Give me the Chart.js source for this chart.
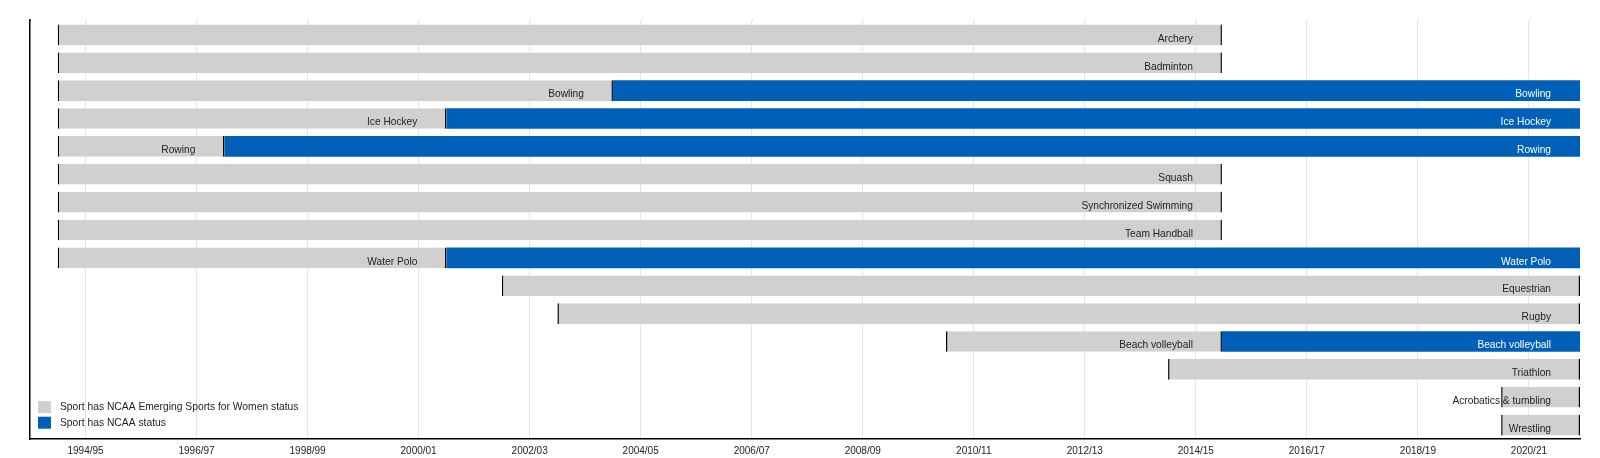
<!DOCTYPE html>
<html>
<head>
<meta charset="utf-8">
<script src="https://cdn.jsdelivr.net/npm/chart.js@4/dist/chart.umd.min.js"></script>
<style>
  html, body { margin: 0; padding: 0; background: #fff; }
  #wrap { width: 1600px; height: 458px; }
</style>
</head>
<body>
<div id="wrap"><canvas id="myChart" width="1600" height="458"></canvas></div>
<script>
// sports, top to bottom
const sports = ['Archery', 'Badminton', 'Bowling', 'Ice Hockey', 'Rowing', 'Squash',
  'Synchronized Swimming', 'Team Handball', 'Water Polo', 'Equestrian', 'Rugby',
  'Beach volleyball', 'Triathlon', 'Acrobatics & tumbling', 'Wrestling'];

// emerging sport status (years, July = .5)
const emergingStart = [1994.5, 1994.5, 1994.5, 1994.5, 1994.5, 1994.5, 1994.5, 1994.5, 1994.5,
  2002.5, 2003.5, 2010.5, 2014.5, 2020.5, 2020.5];
const emergingEnd = [2015.47, 2015.47, 2004.5, 2001.5, 1997.5, 2015.47, 2015.47, 2015.47, 2001.5,
  2021.92, 2021.92, 2015.47, 2021.92, 2021.92, 2021.92];

// full NCAA status
const ncaaStart = [null, null, 2004.5, 2001.5, 1997.5, null, null, null, 2001.5,
  null, null, 2015.47, null, null, null];
const ncaaEnd = [null, null, 2021.92, 2021.92, 2021.92, null, null, null, 2021.92,
  null, null, 2021.92, null, null, null];

const tickYears = [1995, 1997, 1999, 2001, 2003, 2005, 2007, 2009, 2011, 2013, 2015, 2017, 2019, 2021];
const tickLabels = ['1994/95', '1996/97', '1998/99', '2000/01', '2002/03', '2004/05', '2006/07',
  '2008/09', '2010/11', '2012/13', '2014/15', '2016/17', '2018/19', '2020/21'];

const GRAY = '#d2d0cf';
const BLUE = '#005fb7';
const FONT = '"Liberation Sans", Arial, Helvetica, sans-serif';

function pairs(a, b) {
  return a.map((v, i) => (v === null ? null : [v, b[i]]));
}

// axis line and grid lines reach a bit above the first row
const topExtend = {
  id: 'topExtend',
  beforeDatasetsDraw(chart) {
    const ctx = chart.ctx;
    const area = chart.chartArea;
    const xs = chart.scales.x;
    ctx.save();
    ctx.strokeStyle = '#e6e6e6';
    ctx.lineWidth = 1;
    xs.ticks.forEach(t => {
      const x = Math.round(xs.getPixelForValue(t.value)) + 0.5;
      ctx.beginPath();
      ctx.moveTo(x, area.top - 2);
      ctx.lineTo(x, area.top);
      ctx.stroke();
    });
    ctx.strokeStyle = '#000';
    ctx.lineWidth = 1.5;
    ctx.beginPath();
    ctx.moveTo(area.left, area.top - 2);
    ctx.lineTo(area.left, area.top);
    ctx.stroke();
    ctx.restore();
  }
};

// label at the end of every bar segment
const barLabels = {
  id: 'barLabels',
  afterDatasetsDraw(chart) {
    const ctx = chart.ctx;
    const xs = chart.scales.x;
    ctx.save();
    ctx.font = '10.2px ' + FONT;
    ctx.textAlign = 'right';
    ctx.textBaseline = 'alphabetic';
    chart.data.datasets.forEach((ds, di) => {
      const meta = chart.getDatasetMeta(di);
      ctx.fillStyle = di === 0 ? '#222' : '#fff';
      ds.data.forEach((d, i) => {
        if (!d) return;
        const el = meta.data[i];
        const xEnd = xs.getPixelForValue(d[1]);
        ctx.fillText(sports[i], xEnd - 29, el.y + 6.7);
      });
    });
    ctx.restore();
  }
};

// legend in lower left corner of plot
const cornerLegend = {
  id: 'cornerLegend',
  afterDraw(chart) {
    const ctx = chart.ctx;
    const area = chart.chartArea;
    ctx.save();
    ctx.font = '10.3px ' + FONT;
    ctx.textAlign = 'left';
    ctx.textBaseline = 'middle';
    chart.data.datasets.forEach((ds, di) => {
      const top = area.bottom - 38 + di * 15.7;
      ctx.fillStyle = ds.backgroundColor;
      ctx.fillRect(area.left + 8, top, 13, 12);
      ctx.fillStyle = '#222';
      ctx.fillText(ds.label, area.left + 30, top + 6.5);
    });
    ctx.restore();
  }
};

const ctx = document.getElementById('myChart');
const myChart = new Chart(ctx, {
  type: 'bar',
  data: {
    labels: sports,
    datasets: [{
      label: 'Sport has NCAA Emerging Sports for Women status',
      data: pairs(emergingStart, emergingEnd),
      backgroundColor: GRAY,
      borderColor: '#000',
      borderWidth: { left: 1.5, right: 1.5, top: 0, bottom: 0 },
      borderSkipped: false,
      barPercentage: 0.74,
      categoryPercentage: 1,
      grouped: false
    }, {
      label: 'Sport has NCAA status',
      data: pairs(ncaaStart, ncaaEnd),
      backgroundColor: BLUE,
      borderWidth: 0,
      borderSkipped: false,
      barPercentage: 0.74,
      categoryPercentage: 1,
      grouped: false
    }]
  },
  options: {
    indexAxis: 'y',
    responsive: false,
    animation: false,
    layout: { padding: { left: 30, top: 21, right: 20, bottom: 0 } },
    plugins: {
      legend: { display: false },
      tooltip: { enabled: false }
    },
    scales: {
      x: {
        type: 'linear',
        min: 1994,
        max: 2021.92,
        afterBuildTicks: function (scale) {
          scale.ticks = tickYears.map(v => ({ value: v }));
        },
        afterFit: function (scale) {
          scale.height = 19;
        },
        ticks: {
          autoSkip: false,
          maxRotation: 0,
          padding: 6,
          color: '#222',
          font: { family: FONT, size: 10 },
          callback: function (value) {
            return tickLabels[tickYears.indexOf(value)];
          }
        },
        grid: { color: '#e6e6e6', lineWidth: 1, drawTicks: false },
        border: { display: true, color: '#000', width: 1.5 }
      },
      y: {
        type: 'category',
        ticks: { display: false },
        grid: { display: false, drawTicks: false },
        border: { display: true, color: '#000', width: 1.5 }
      }
    }
  },
  plugins: [topExtend, barLabels, cornerLegend]
});
</script>
</body>
</html>
